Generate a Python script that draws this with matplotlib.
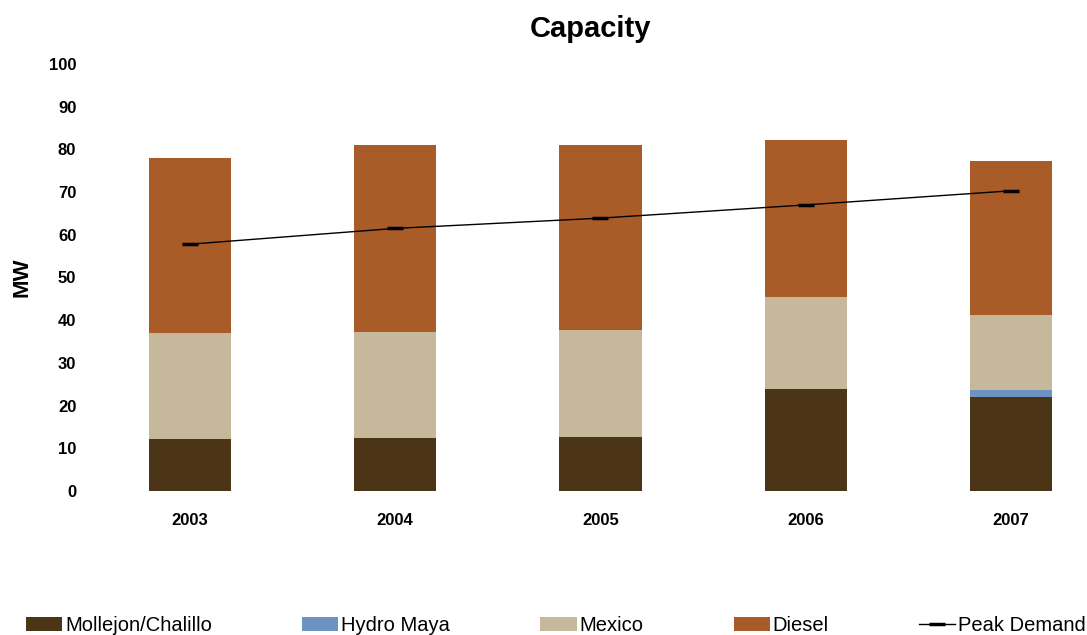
import matplotlib
matplotlib.use("Agg")
import matplotlib.pyplot as plt
import numpy as np

years = ["2003", "2004", "2005", "2006", "2007"]
mollejon = [12.1, 12.3, 12.7, 23.8, 21.9]
hydro_maya = [0, 0, 0, 0, 1.8]
mexico = [24.8, 25.0, 25.0, 21.7, 17.4]
diesel = [41.2, 43.7, 43.3, 36.7, 36.3]
peak_demand = [57.8, 61.5, 63.9, 67.0, 70.3]

colors = {"Mollejon/Chalillo": "#4b3516", "Hydro Maya": "#6f93c0",
          "Mexico": "#c6b99b", "Diesel": "#a95b28"}

plt.rcParams['font.family'] = ['Liberation Sans', 'DejaVu Sans']

fig = plt.figure(figsize=(10.87, 6.35), dpi=100)
ax = fig.add_axes([0.0804, 0.2268, 0.9157, 0.6724])

x = np.arange(len(years))
w = 0.4
bottom = np.zeros(len(years))
handles = []
for name, vals in [("Mollejon/Chalillo", mollejon), ("Hydro Maya", hydro_maya),
                   ("Mexico", mexico), ("Diesel", diesel)]:
    b = ax.bar(x, vals, w, bottom=bottom, color=colors[name], label=name)
    bottom += np.array(vals)
    handles.append(b)

ln, = ax.plot(x, peak_demand, color="black", lw=1.0, marker="_", ms=12, mew=2.5,
              label="Peak Demand")
handles.append(ln)

ax.set_xlim(-0.5, 4.35)
ax.set_ylim(0, 100)
ax.set_yticks(range(0, 101, 10))
ax.set_xticks(x)
ax.set_xticklabels(years, fontsize=12, fontweight="bold")
for t in ax.get_yticklabels():
    t.set_fontsize(12)
    t.set_fontweight("bold")
ax.tick_params(axis="y", length=0, pad=8)
ax.tick_params(axis="x", length=0, pad=16)
for s in ax.spines.values():
    s.set_visible(False)
ax.set_ylabel("MW", fontsize=16, fontweight="bold", labelpad=12)

fig.text(0.543, 0.955, "Capacity", ha="center", va="center", fontsize=21, fontweight="bold")

fig.legend(handles=handles, labels=["Mollejon/Chalillo", "Hydro Maya", "Mexico", "Diesel", "Peak Demand"],
           loc="lower left", bbox_to_anchor=(0.024, 0.0, 0.975, 0.04), mode="expand", ncol=5,
           frameon=False, fontsize=14.5, handlelength=1.8, handleheight=0.7, handletextpad=0.15,
           borderaxespad=0.0, borderpad=0.0)

fig.savefig("out.png", dpi=100, facecolor="white")
